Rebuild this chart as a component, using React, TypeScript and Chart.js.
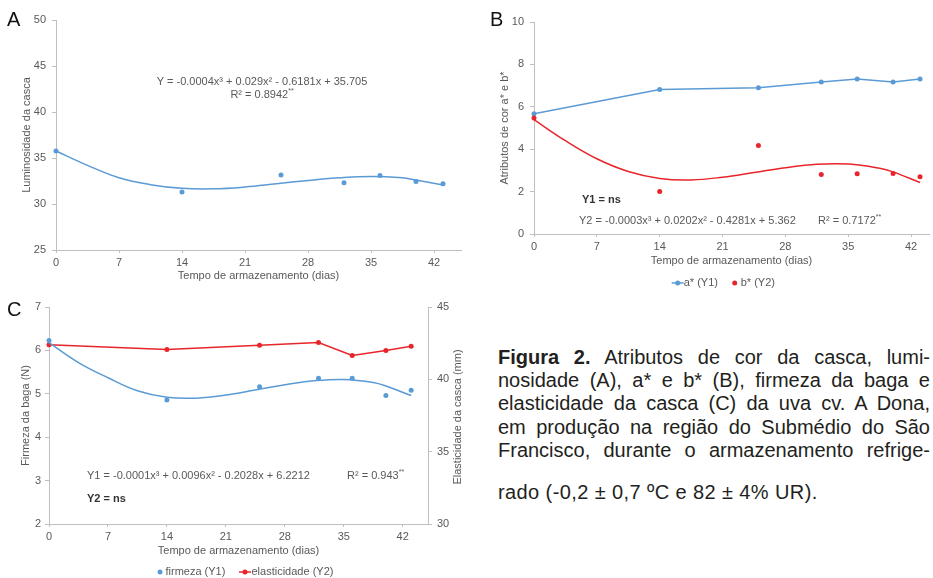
import React, { useEffect, useRef } from 'react';
import { Chart, registerables } from 'chart.js';

Chart.register(...registerables);

const FONT_FAMILY = "'Liberation Sans', Arial, Helvetica, sans-serif";
const AXIS_GRAY = '#bfbfbf';
const TEXT_GRAY = '#595959';
const BLUE = '#5b9bd5';
const RED = '#e8252b';

// ---------- data ----------
const days = [0, 14, 25, 32, 36, 40, 43];
const xTicks = [0, 7, 14, 21, 28, 35, 42];
const trendDays = [0, 3.5, 7, 10.5, 14, 17.5, 21, 24.5, 28, 31.5, 35, 38.5, 40, 43];

// A: luminosidade
const luminosidade = [35.76, 31.3, 33.15, 32.3, 33.1, 32.45, 32.2];
const luminosidadeTrend = [35.76, 34.2, 32.85, 32.1, 31.7, 31.65, 31.85, 32.2, 32.55, 32.85, 33.0, 32.85, 32.6, 32.07];

// B: a* and b*
const aStar = [5.67, 6.82, 6.9, 7.17, 7.31, 7.17, 7.31];
const bStar = [5.47, 2.0, 4.17, 2.81, 2.84, 2.85, 2.7];
const bStarTrend = [5.39, 4.4, 3.55, 2.95, 2.62, 2.55, 2.68, 2.9, 3.13, 3.29, 3.3, 3.1, 2.93, 2.43];

// C: firmeza and elasticidade
const firmeza = [6.23, 4.86, 5.16, 5.36, 5.36, 4.96, 5.08];
const firmezaTrend = [6.18, 5.72, 5.37, 5.07, 4.92, 4.9, 4.97, 5.09, 5.21, 5.3, 5.33, 5.26, 5.18, 4.96];
const elasticidade = [42.39, 42.07, 42.35, 42.55, 41.65, 42.0, 42.28];

const xTitle = 'Tempo de armazenamento (dias)';

const captionLines = [
  'Atributos de cor da casca, lumi-',
  'nosidade (A), a* e b* (B), firmeza da baga e',
  'elasticidade da casca (C) da uva cv. A Dona,',
  'em produção na região do Submédio do São',
  'Francisco, durante o armazenamento refrige-',
  'rado (-0,2 ± 0,7 ºC e 82 ± 4% UR).',
];
const captionBold = 'Figura 2.';

// ---------- helpers ----------
const pts = (xs: number[], ys: number[]) => xs.map((x, i) => ({ x, y: ys[i] }));

function xAxis(max: number, height: number, titlePadBottom: number) {
  return {
    type: 'linear',
    position: 'bottom',
    min: 0,
    max,
    afterBuildTicks: (s: any) => {
      s.ticks = xTicks.map((v) => ({ value: v }));
    },
    afterFit: (s: any) => {
      s.height = height;
    },
    grid: { display: true, drawOnChartArea: false, drawTicks: true, tickLength: 3, color: AXIS_GRAY, lineWidth: 1 },
    border: { display: true, color: AXIS_GRAY, width: 1 },
    ticks: { color: TEXT_GRAY, font: { family: FONT_FAMILY, size: 11 }, padding: 3, maxRotation: 0, autoSkip: false },
    title: {
      display: true,
      text: xTitle,
      color: TEXT_GRAY,
      font: { family: FONT_FAMILY, size: 11 },
      padding: { top: 0, bottom: titlePadBottom },
    },
  };
}

function yAxis(o: {
  position: 'left' | 'right';
  min: number;
  max: number;
  step: number;
  width: number;
  title?: string;
  titlePad?: number;
  tickPad: number;
}) {
  return {
    type: 'linear',
    position: o.position,
    min: o.min,
    max: o.max,
    afterFit: (s: any) => {
      s.width = o.width;
    },
    grid: { display: true, drawOnChartArea: false, drawTicks: true, tickLength: 4, color: AXIS_GRAY, lineWidth: 1 },
    border: { display: true, color: AXIS_GRAY, width: 1 },
    ticks: { stepSize: o.step, color: TEXT_GRAY, font: { family: FONT_FAMILY, size: 11 }, padding: o.tickPad },
    title: o.title
      ? {
          display: true,
          text: o.title,
          color: TEXT_GRAY,
          font: { family: FONT_FAMILY, size: 11 },
          padding: { top: o.titlePad ?? 0, bottom: 0 },
        }
      : { display: false },
  };
}

type TextItem = {
  text: string;
  x: number;
  y: number;
  bold?: boolean;
  size?: number;
  color?: string;
  align?: 'left' | 'center';
  sup?: string;
  rotate?: boolean;
};
type LegendMark = { kind: 'line' | 'dot'; color: string; x: number; y: number; text: string; textX: number };

function overlay(id: string, texts: TextItem[], marks: LegendMark[]) {
  return {
    id,
    afterDraw(chart: any) {
      const ctx = chart.ctx as CanvasRenderingContext2D;
      ctx.save();
      ctx.textBaseline = 'middle';
      for (const t of texts) {
        const size = t.size ?? 11;
        const font = `${t.bold ? 'bold ' : ''}${size}px ${FONT_FAMILY}`;
        const supFont = `${Math.round(size * 0.65)}px ${FONT_FAMILY}`;
        ctx.font = font;
        const w = ctx.measureText(t.text).width;
        let supW = 0;
        if (t.sup) {
          ctx.font = supFont;
          supW = ctx.measureText(t.sup).width;
          ctx.font = font;
        }
        const total = w + supW;
        ctx.save();
        ctx.translate(t.x, t.y);
        if (t.rotate) ctx.rotate(-Math.PI / 2);
        const sx = t.align === 'center' ? -total / 2 : 0;
        ctx.fillStyle = t.color ?? TEXT_GRAY;
        ctx.textAlign = 'left';
        ctx.fillText(t.text, sx, 0);
        if (t.sup) {
          ctx.font = supFont;
          ctx.fillText(t.sup, sx + w, -size * 0.35);
        }
        ctx.restore();
      }
      for (const m of marks) {
        ctx.fillStyle = m.color;
        ctx.strokeStyle = m.color;
        if (m.kind === 'line') {
          ctx.lineWidth = 1.5;
          ctx.beginPath();
          ctx.moveTo(m.x - 6, m.y);
          ctx.lineTo(m.x + 6, m.y);
          ctx.stroke();
        }
        ctx.beginPath();
        ctx.arc(m.x, m.y, 2.5, 0, Math.PI * 2);
        ctx.fill();
        ctx.font = `11px ${FONT_FAMILY}`;
        ctx.fillStyle = TEXT_GRAY;
        ctx.textAlign = 'left';
        ctx.fillText(m.text, m.textX, m.y);
      }
      ctx.restore();
    },
  };
}

const baseOptions = {
  responsive: false,
  animation: false,
  devicePixelRatio: 1,
  events: [],
};

function trendSet(xs: number[], ys: number[], color: string, yAxisID = 'y') {
  return {
    type: 'line',
    data: pts(xs, ys),
    borderColor: color,
    backgroundColor: color,
    borderWidth: 1.5,
    pointRadius: 0,
    tension: 0.4,
    fill: false,
    clip: false,
    yAxisID,
  };
}
function pointSet(xs: number[], ys: number[], color: string, showLine: boolean, yAxisID = 'y') {
  return {
    type: 'line',
    data: pts(xs, ys),
    borderColor: color,
    backgroundColor: color,
    borderWidth: 1.5,
    pointRadius: 2.5,
    pointBorderWidth: 0,
    pointBackgroundColor: color,
    showLine,
    tension: 0,
    fill: false,
    clip: false,
    yAxisID,
  };
}

// ---------- configs ----------
const configA = () => ({
  type: 'line',
  data: {
    datasets: [trendSet(trendDays, luminosidadeTrend, BLUE), pointSet(days, luminosidade, BLUE, false)],
  },
  options: {
    ...baseOptions,
    layout: { padding: { left: 0, top: 20, right: 9, bottom: 0 } },
    plugins: { legend: { display: false }, tooltip: { enabled: false } },
    scales: {
      x: xAxis(45, 40, 7.4),
      y: yAxis({ position: 'left', min: 25, max: 50, step: 5, width: 56, title: 'Luminosidade da casca', titlePad: 20.4, tickPad: 6 }),
    },
  },
  plugins: [
    overlay(
      'ovA',
      [
        { text: 'A', x: 7, y: 20, size: 20, color: '#111' },
        { text: 'Y = -0.0004x³ + 0.029x² - 0.6181x + 35.705', x: 262, y: 82, align: 'center' },
        { text: 'R² = 0.8942', sup: '**', x: 262, y: 94.5, align: 'center' },
      ],
      []
    ),
  ],
});

const configB = () => ({
  type: 'line',
  data: {
    datasets: [
      trendSet(trendDays, bStarTrend, RED),
      pointSet(days, bStar, RED, false),
      pointSet(days, aStar, BLUE, true),
    ],
  },
  options: {
    ...baseOptions,
    layout: { padding: { left: 0, top: 22, right: 0, bottom: 0 } },
    plugins: { legend: { display: false }, tooltip: { enabled: false } },
    scales: {
      x: xAxis(44, 66, 32.4),
      y: yAxis({ position: 'left', min: 0, max: 10, step: 2, width: 64, title: 'Atributos de cor a* e b*', titlePad: 28.4, tickPad: 6 }),
    },
  },
  plugins: [
    overlay(
      'ovB',
      [
        { text: 'B', x: 20, y: 20, size: 20, color: '#111' },
        { text: 'Y1 = ns', x: 112, y: 200, bold: true, color: '#333333' },
        { text: 'Y2 = -0.0003x³ + 0.0202x² - 0.4281x + 5.362', x: 109, y: 221 },
        { text: 'R² = 0.7172', sup: '**', x: 348, y: 221 },
      ],
      [
        { kind: 'line', color: BLUE, x: 207.7, y: 283, text: 'a* (Y1)', textX: 213.7 },
        { kind: 'dot', color: RED, x: 264.7, y: 283, text: 'b* (Y2)', textX: 270.7 },
      ]
    ),
  ],
});

const configC = () => ({
  type: 'line',
  data: {
    datasets: [
      trendSet(trendDays, firmezaTrend, BLUE),
      pointSet(days, firmeza, BLUE, false),
      pointSet(days, elasticidade, RED, true, 'y2'),
    ],
  },
  options: {
    ...baseOptions,
    layout: { padding: { left: 0, top: 17, right: 0, bottom: 0 } },
    plugins: { legend: { display: false }, tooltip: { enabled: false } },
    scales: {
      x: xAxis(45, 54, 20.4),
      y: yAxis({ position: 'left', min: 2, max: 7, step: 1, width: 49, title: 'Firmeza da baga (N)', titlePad: 19.4, tickPad: 4 }),
      y2: yAxis({ position: 'right', min: 30, max: 45, step: 5, width: 42, tickPad: 5 }),
    },
  },
  plugins: [
    overlay(
      'ovC',
      [
        { text: 'C', x: 7, y: 20.5, size: 20, color: '#111' },
        { text: 'Y1 = -0.0001x³ + 0.0096x² - 0.2028x + 6.2212', x: 87, y: 186 },
        { text: 'R² = 0.943', sup: '**', x: 347, y: 186 },
        { text: 'Y2 = ns', x: 87, y: 209, bold: true, color: '#333333' },
        { text: 'Elasticidade da casca (mm)', x: 458, y: 127, align: 'center', rotate: true },
      ],
      [
        { kind: 'dot', color: BLUE, x: 160, y: 282, text: 'firmeza (Y1)', textX: 165.5 },
        { kind: 'line', color: RED, x: 245, y: 282, text: 'elasticidade (Y2)', textX: 251.5 },
      ]
    ),
  ],
});

// ---------- components ----------
function ChartPanel(props: { left: number; top: number; width: number; height: number; build: () => any }) {
  const ref = useRef<HTMLCanvasElement>(null);
  useEffect(() => {
    const chart = new Chart(ref.current as HTMLCanvasElement, props.build());
    return () => chart.destroy();
  }, []);
  return (
    <canvas
      ref={ref}
      width={props.width}
      height={props.height}
      style={{ position: 'absolute', left: props.left, top: props.top, width: props.width, height: props.height }}
    />
  );
}

const captionCenters = [357, 380.3, 403.6, 427, 450.3, 492];
const LH = 23;

function Caption() {
  return (
    <div
      style={{
        position: 'absolute',
        left: 498,
        top: 0,
        width: 432,
        fontFamily: FONT_FAMILY,
        fontSize: 20,
        color: '#231f20',
      }}
    >
      {captionLines.map((ln, i) => {
        const justify = i < captionLines.length - 1;
        return (
          <div
            key={i}
            style={{
              position: 'absolute',
              left: 0,
              top: captionCenters[i] - LH / 2,
              width: 432,
              height: LH,
              lineHeight: `${LH}px`,
              textAlign: justify ? 'justify' : 'left',
              textAlignLast: justify ? 'justify' : 'left',
              letterSpacing: justify ? 0 : '0.4px',
            } as any}
          >
            {i === 0 ? (
              <>
                <b>{captionBold}</b> {ln}
              </>
            ) : (
              ln
            )}
          </div>
        );
      })}
    </div>
  );
}

export default function App() {
  return (
    <div
      style={{
        position: 'absolute',
        left: 0,
        top: 0,
        width: 933,
        height: 578,
        background: '#fff',
        overflow: 'hidden',
      }}
    >
      <ChartPanel left={0} top={0} width={470} height={290} build={configA} />
      <ChartPanel left={470} top={0} width={463} height={300} build={configB} />
      <ChartPanel left={0} top={290} width={470} height={288} build={configC} />
      <Caption />
    </div>
  );
}
